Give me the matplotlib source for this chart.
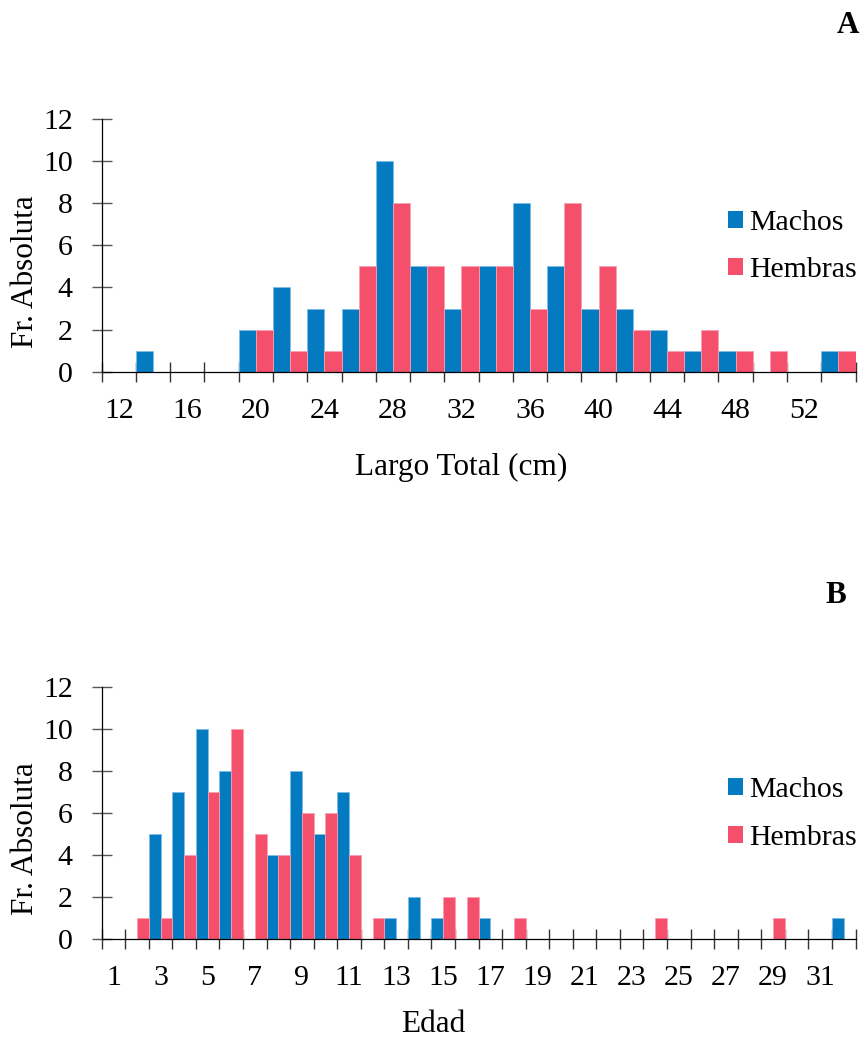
import numpy as np
import matplotlib
matplotlib.use("Agg")
import matplotlib.pyplot as plt
from matplotlib.patches import Patch

plt.rcParams['font.family'] = ['Liberation Serif', 'DejaVu Serif']

# Panel A: total length classes (cm)
largo_clases = [12, 14, 16, 18, 20, 22, 24, 26, 28, 30, 32, 34, 36, 38, 40,
                42, 44, 46, 48, 50, 52, 54]
largo_machos = [0, 1, 0, 0, 2, 4, 3, 3, 10, 5, 3, 5, 8, 5, 3, 3, 2, 1, 1, 0, 0, 1]
largo_hembras = [0, 0, 0, 0, 2, 1, 1, 5, 8, 5, 5, 5, 3, 8, 5, 2, 1, 2, 1, 1, 0, 1]

# Panel B: age classes
edad_clases = list(range(1, 33))
edad_machos = [0, 0, 5, 7, 10, 8, 0, 4, 8, 5, 7, 0, 1, 2, 1, 0, 1,
               0, 0, 0, 0, 0, 0, 0, 0, 0, 0, 0, 0, 0, 0, 1]
edad_hembras = [0, 1, 1, 4, 7, 10, 5, 4, 6, 6, 4, 1, 0, 0, 2, 2, 0,
                1, 0, 0, 0, 0, 0, 1, 0, 0, 0, 0, 1, 0, 0, 0]

series_labels = ["Machos", "Hembras"]
y_ticks = [0, 2, 4, 6, 8, 10, 12]

AZUL = "#047BC1"
AZUL_BORDE = "#7dbde6"
ROSA = "#F5506B"
ROSA_BORDE = "#f9a0b0"

W, H = 862, 1040
fig = plt.figure(figsize=(W / 100, H / 100), dpi=100)

TICK_FS = 21.5
TITLE_FS = 22.5


def px_x(x):
    return x / W


def px_y(y):
    return 1 - y / H


def panel(rect_px, clases, machos, hembras, label_step, xtitle, xtitle_pos,
          ylabel_y, letter, letter_pos, legend_cy):
    left, top, right, bottom = rect_px
    ax = fig.add_axes([px_x(left), px_y(bottom), (right - left) / W, (bottom - top) / H])
    n = len(clases)
    x = np.arange(n)
    ax.bar(x + 0.25, machos, width=0.5, color=AZUL, edgecolor=AZUL_BORDE,
           linewidth=0.6, zorder=2)
    ax.bar(x + 0.75, hembras, width=0.5, color=ROSA, edgecolor=ROSA_BORDE,
           linewidth=0.6, zorder=2)
    ax.set_xlim(0, n)
    ax.set_ylim(0, 12)

    for s in ("top", "right"):
        ax.spines[s].set_visible(False)
    for s in ("left", "bottom"):
        ax.spines[s].set_linewidth(0.9)
        ax.spines[s].set_color("black")
        ax.spines[s].set_zorder(3)

    ax.set_yticks(y_ticks)
    ax.set_yticklabels([str(v) for v in y_ticks])
    ax.tick_params(axis="y", direction="inout", length=13.7, width=1.0,
                   color="#555555", pad=14.0, labelsize=TICK_FS)

    # category labels on every other class, boundaries marked with minor ticks
    ax.set_xticks(x[::label_step] + 0.5)
    ax.set_xticklabels([str(c) for c in clases[::label_step]])
    ax.set_xticks(np.arange(n + 1), minor=True)
    ax.tick_params(axis="x", which="major", length=0, pad=19.0, labelsize=TICK_FS)
    ax.tick_params(axis="x", which="minor", direction="inout", length=13.7,
                   width=1.0, color="#333333")

    fig.text(px_x(xtitle_pos[0]), px_y(xtitle_pos[1]), xtitle, ha="center",
             va="baseline", fontsize=TITLE_FS)
    fig.text(px_x(26), px_y(ylabel_y), "Fr. Absoluta", rotation=90,
             ha="center", va="center", fontsize=TITLE_FS)
    fig.text(px_x(letter_pos[0]), px_y(letter_pos[1]), letter, ha="center",
             va="baseline", fontsize=TITLE_FS, fontweight="bold")

    handles = [Patch(facecolor=AZUL, edgecolor="none"),
               Patch(facecolor=ROSA, edgecolor="none")]
    ax.legend(handles, series_labels, loc="center left",
              bbox_to_anchor=(px_x(728), px_y(legend_cy)),
              bbox_transform=fig.transFigure, frameon=False,
              fontsize=TICK_FS, handlelength=0.5, handleheight=0.5,
              handletextpad=0.22, labelspacing=0.72, borderpad=0,
              borderaxespad=0)
    return ax


panel((101.7, 119, 855.5, 371.7), largo_clases, largo_machos, largo_hembras, 2,
      "Largo Total (cm)", (461, 475), 271.5, "A", (848, 32.7), 246.5)
panel((101.7, 687, 855.5, 939), edad_clases, edad_machos, edad_hembras, 2,
      "Edad", (433, 1032), 838.8, "B", (836, 603), 814)

fig.savefig("out.png", dpi=100)
